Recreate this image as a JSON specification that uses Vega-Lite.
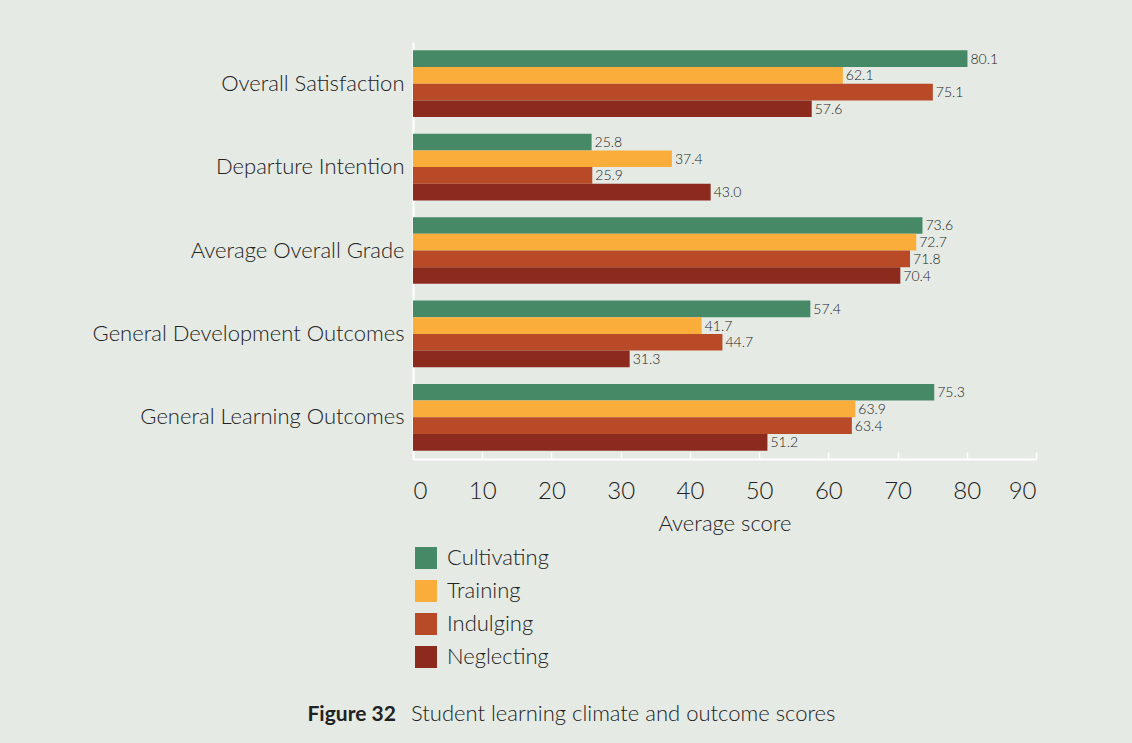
{
  "$schema": "https://vega.github.io/schema/vega-lite/v6.json",
  "width": 623,
  "height": 417,
  "autosize": {"type": "none"},
  "padding": {"left": 413, "top": 42, "right": 96, "bottom": 284},
  "background": "#E5EAE4",
  "config": {
    "view": {"stroke": null},
    "font": "Lato",
    "axis": {"grid": false, "labelFont": "Lato", "titleFont": "Lato", "labelFontWeight": 300, "labelColor": "#222222", "titleColor": "#222222"},
    "legend": {"labelFont": "Lato"}
  },
  "title": {
    "text": "Student learning climate and outcome scores",
    "orient": "bottom",
    "anchor": "start",
    "frame": "group",
    "dx": -2,
    "offset": -20,
    "font": "Lato",
    "fontSize": 22,
    "fontWeight": 300,
    "color": "#222222"
  },
  "data": {
    "values": [
      {"measure": "Overall Satisfaction", "climate": "Cultivating", "score": 80.1},
      {"measure": "Overall Satisfaction", "climate": "Training", "score": 62.1},
      {"measure": "Overall Satisfaction", "climate": "Indulging", "score": 75.1},
      {"measure": "Overall Satisfaction", "climate": "Neglecting", "score": 57.6},
      {"measure": "Departure Intention", "climate": "Cultivating", "score": 25.8},
      {"measure": "Departure Intention", "climate": "Training", "score": 37.4},
      {"measure": "Departure Intention", "climate": "Indulging", "score": 25.9},
      {"measure": "Departure Intention", "climate": "Neglecting", "score": 43.0},
      {"measure": "Average Overall Grade", "climate": "Cultivating", "score": 73.6},
      {"measure": "Average Overall Grade", "climate": "Training", "score": 72.7},
      {"measure": "Average Overall Grade", "climate": "Indulging", "score": 71.8},
      {"measure": "Average Overall Grade", "climate": "Neglecting", "score": 70.4},
      {"measure": "General Development Outcomes", "climate": "Cultivating", "score": 57.4},
      {"measure": "General Development Outcomes", "climate": "Training", "score": 41.7},
      {"measure": "General Development Outcomes", "climate": "Indulging", "score": 44.7},
      {"measure": "General Development Outcomes", "climate": "Neglecting", "score": 31.3},
      {"measure": "General Learning Outcomes", "climate": "Cultivating", "score": 75.3},
      {"measure": "General Learning Outcomes", "climate": "Training", "score": 63.9},
      {"measure": "General Learning Outcomes", "climate": "Indulging", "score": 63.4},
      {"measure": "General Learning Outcomes", "climate": "Neglecting", "score": 51.2}
    ]
  },
  "encoding": {
    "y": {
      "field": "measure",
      "type": "nominal",
      "sort": ["Overall Satisfaction", "Departure Intention", "Average Overall Grade", "General Development Outcomes", "General Learning Outcomes"],
      "scale": {"paddingInner": 0.2, "paddingOuter": 0.1},
      "axis": {
        "title": "Figure 32",
        "titleAngle": 0,
        "titleX": -106,
        "titleY": 678,
        "titleAlign": "left",
        "titleBaseline": "alphabetic",
        "titleFontSize": 21,
        "titleFontWeight": "bold",
        "labelFontSize": 22,
        "labelPadding": 9,
        "labelLimit": 400,
        "ticks": false,
        "domainColor": "#ffffff",
        "domainWidth": 2
      }
    },
    "yOffset": {
      "field": "climate",
      "type": "nominal",
      "sort": ["Cultivating", "Training", "Indulging", "Neglecting"],
      "scale": {"paddingInner": 0, "paddingOuter": 0}
    },
    "x": {
      "field": "score",
      "type": "quantitative",
      "scale": {"domain": [0, 90], "nice": false},
      "axis": {
        "title": "Average score",
        "values": [0, 10, 20, 30, 40, 50, 60, 70, 80, 90],
        "labelFontSize": 24,
        "labelPadding": 27,
        "titleFontSize": 22,
        "titleFontWeight": 300,
        "titlePadding": 10,
        "domainColor": "#ffffff",
        "domainWidth": 2,
        "tickColor": "#ffffff",
        "tickWidth": 1.5,
        "tickSize": -7
      }
    }
  },
  "layer": [
    {
      "mark": {"type": "bar"},
      "encoding": {
        "color": {
          "field": "climate",
          "type": "nominal",
          "scale": {
            "domain": ["Cultivating", "Training", "Indulging", "Neglecting"],
            "range": ["#468966", "#FBAD3B", "#B84A27", "#8C2A1E"]
          },
          "legend": {
            "title": null,
            "orient": "none",
            "legendX": 2,
            "legendY": 505,
            "direction": "vertical",
            "symbolType": "square",
            "symbolSize": 484,
            "symbolStrokeWidth": 0,
            "symbolOpacity": 1,
            "labelFontSize": 22,
            "labelFontWeight": 300,
            "labelColor": "#222222",
            "labelOffset": 10,
            "rowPadding": 11
          }
        }
      }
    },
    {
      "mark": {"type": "text", "align": "left", "baseline": "middle", "dx": 3, "dy": 1, "font": "Lato", "fontSize": 14, "fontWeight": 300, "color": "#222222"},
      "encoding": {
        "text": {"field": "score", "type": "quantitative", "format": ".1f"}
      }
    }
  ]
}
